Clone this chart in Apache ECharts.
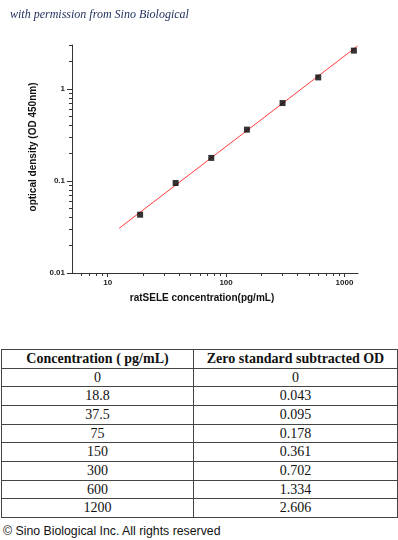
<!DOCTYPE html>
<html>
<head>
<meta charset="utf-8">
<script src="https://cdn.jsdelivr.net/npm/echarts@6/dist/echarts.min.js"></script>
<style>
  html, body { margin: 0; padding: 0; background: #fff; width: 398px; height: 540px; overflow: hidden; position: relative; }
  #chart { position: absolute; left: 0; top: 0; width: 398px; height: 330px; z-index: 1; }
  #title { position: absolute; left: 10px; top: 7px; z-index: 5; font-family: "Liberation Serif", serif; font-style: italic; font-size: 12px; color: #1c2d5c; white-space: nowrap; }
  #tbl { position: absolute; left: 1px; top: 349px; width: 396px; border-collapse: collapse; table-layout: fixed; font-family: "Liberation Serif", serif; font-size: 14px; color: #111; }
  #tbl td, #tbl th { border: 1px solid #444; padding: 0; height: 17.67px; line-height: 17.67px; text-align: center; overflow: hidden; white-space: nowrap; }
  #tbl th { font-weight: bold; }
  #copy { position: absolute; left: 3px; top: 524px; font-family: "Liberation Sans", Arial, sans-serif; font-size: 12.3px; color: #111; white-space: nowrap; }
</style>
</head>
<body>
<div id="chart"></div>
<div id="title">with permission from Sino Biological</div>
<table id="tbl"><colgroup><col style="width:192px"><col style="width:204px"></colgroup><thead></thead><tbody></tbody></table>
<div id="copy">© Sino Biological Inc. All rights reserved</div>
<script>
// ---- data ----
var concentrations = [18.8, 37.5, 75, 150, 300, 600, 1200];
var odValues = [0.043, 0.095, 0.178, 0.361, 0.702, 1.334, 2.606];
var fitLineX = [12.5, 1290];
var fitLineY = [0.0306, 2.93];
var xMajorTicks = [10, 100, 1000];
var xMinorTicks = [6, 7, 8, 9, 20, 30, 40, 50, 60, 70, 80, 90, 200, 300, 400, 500, 600, 700, 800, 900];
var yMajorTicks = [0.01, 0.1, 1];
var yMinorTicks = [0.02, 0.03, 0.04, 0.05, 0.06, 0.07, 0.08, 0.09, 0.2, 0.3, 0.4, 0.5, 0.6, 0.7, 0.8, 0.9, 2, 3];
var tableHeaders = ["Concentration ( pg/mL)", "Zero standard subtracted OD"];
var tableConc = ["0", "18.8", "37.5", "75", "150", "300", "600", "1200"];
var tableOD = ["0", "0.043", "0.095", "0.178", "0.361", "0.702", "1.334", "2.606"];

// ---- table ----
var thead = document.querySelector('#tbl thead');
thead.innerHTML = '<tr><th>' + tableHeaders[0] + '</th><th>' + tableHeaders[1] + '</th></tr>';
var tbody = document.querySelector('#tbl tbody');
var html = '';
for (var i = 0; i < tableConc.length; i++) {
  html += '<tr><td>' + tableConc[i] + '</td><td>' + tableOD[i] + '</td></tr>';
}
tbody.innerHTML = html;

// ---- chart ----
var chart = echarts.init(document.getElementById('chart'), null, { renderer: 'canvas' });
var axisColor = '#333';
var labelFont = { fontFamily: 'Liberation Sans, Arial, sans-serif', fontSize: 8, fontWeight: 'bold', color: '#222' };
var xMin = 5, xMax = 1300, yMin = 0.01, yMax = 3;

var option = {
  animation: false,
  backgroundColor: 'transparent',
  grid: { left: 72, top: 45, right: 40, bottom: 57, containLabel: false },
  xAxis: [
    {
      type: 'log', min: xMin, max: xMax, position: 'bottom',
      axisLine: { show: true, lineStyle: { color: axisColor, width: 1 } },
      axisTick: { show: true, inside: false, length: 4, customValues: xMajorTicks, lineStyle: { color: axisColor } },
      axisLabel: Object.assign({ show: true, margin: 6, customValues: xMajorTicks, formatter: function (v) { return String(v); } }, labelFont),
      splitLine: { show: false },
      name: 'ratSELE concentration(pg/mL)', nameLocation: 'middle', nameGap: 20,
      nameTextStyle: { fontFamily: 'Liberation Sans, Arial, sans-serif', fontSize: 10, fontWeight: 'bold', color: '#111', padding: [0, 26, 0, 0] }
    },
    {
      type: 'log', min: xMin, max: xMax, position: 'bottom',
      axisLine: { show: false },
      axisTick: { show: true, inside: false, length: 3, customValues: xMinorTicks, lineStyle: { color: axisColor } },
      axisLabel: { show: false },
      splitLine: { show: false }
    }
  ],
  yAxis: [
    {
      type: 'log', min: yMin, max: yMax, position: 'left',
      axisLine: { show: true, lineStyle: { color: axisColor, width: 1 } },
      axisTick: { show: true, inside: false, length: 5, customValues: yMajorTicks, lineStyle: { color: axisColor } },
      axisLabel: Object.assign({ show: true, margin: 7, customValues: yMajorTicks, formatter: function (v) { return String(v); } }, labelFont),
      splitLine: { show: false },
      name: 'optical density (OD 450nm)', nameLocation: 'middle', nameGap: 29, nameRotate: 90,
      nameTextStyle: { fontFamily: 'Liberation Sans, Arial, sans-serif', fontSize: 10, fontWeight: 'bold', color: '#111', padding: [0, 0, 0, 24] }
    },
    {
      type: 'log', min: yMin, max: yMax, position: 'left',
      axisLine: { show: false },
      axisTick: { show: true, inside: false, length: 3, customValues: yMinorTicks, lineStyle: { color: axisColor } },
      axisLabel: { show: false },
      splitLine: { show: false }
    }
  ],
  series: [
    {
      type: 'line', xAxisIndex: 0, yAxisIndex: 0,
      data: fitLineX.map(function (x, i) { return [x, fitLineY[i]]; }),
      symbol: 'none', lineStyle: { color: '#ff3b3b', width: 1 }, z: 2, silent: true
    },
    {
      type: 'scatter', xAxisIndex: 0, yAxisIndex: 0,
      data: concentrations.map(function (x, i) { return [x, odValues[i]]; }),
      symbol: 'rect', symbolSize: 6, itemStyle: { color: '#000' }, z: 3
    }
  ]
};
chart.setOption(option);
</script>
</body>
</html>
